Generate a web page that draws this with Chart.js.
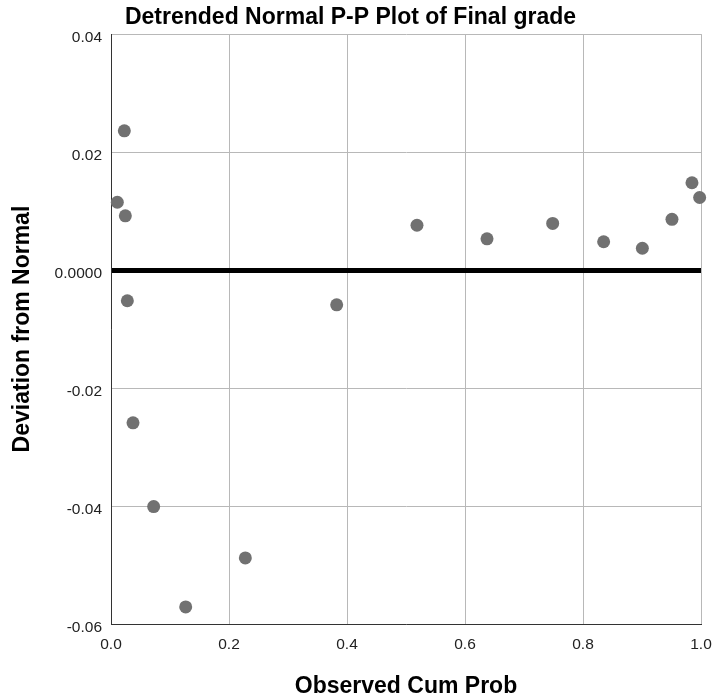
<!DOCTYPE html>
<html>
<head>
<meta charset="utf-8">
<script src="https://cdn.jsdelivr.net/npm/chart.js@4.4.0/dist/chart.umd.min.js"></script>
<style>
  html, body { margin: 0; padding: 0; background: #fff; }
  #wrap { width: 715px; height: 700px; }
</style>
</head>
<body>
<div id="wrap"><canvas id="grafica" width="715" height="700"></canvas></div>
<script>
const observedCumProb = [0.0107, 0.0226, 0.0243, 0.0277, 0.0373, 0.0723, 0.1266, 0.2277, 0.3825,
                         0.5186, 0.6373, 0.7486, 0.8350, 0.9006, 0.9508, 0.9847, 0.9977];
const deviation = [0.0115, 0.0236, 0.0092, -0.0052, -0.0259, -0.0401, -0.0571, -0.0488, -0.0059,
                   0.0076, 0.0053, 0.0079, 0.0048, 0.0037, 0.0086, 0.0148, 0.0123];
const xTicks = [0.0, 0.2, 0.4, 0.6, 0.8, 1.0];
const yTicks = [-0.06, -0.04, -0.02, 0.0, 0.02, 0.04];

const fuente = 'Arial, "Liberation Sans", sans-serif';
const puntos = observedCumProb.map((x, i) => ({ x: x, y: deviation[i] }));
const esCero = v => Math.abs(v) < 1e-9;

const ctx = document.getElementById('grafica');
const chart = new Chart(ctx, {
    type: 'scatter',
    data: {
        datasets: [{
            data: puntos,
            backgroundColor: '#717171',
            borderWidth: 0,
            pointRadius: 6.5,
            pointHoverRadius: 6.5,
            clip: false // los puntos del borde no se recortan
        }]
    },
    options: {
        responsive: false,
        animation: false,
        layout: { padding: { left: 0, right: 14, top: 0, bottom: 0 } },
        plugins: {
            legend: { display: false },
            tooltip: { enabled: false },
            title: {
                display: true,
                text: 'Detrended Normal P-P Plot of Final grade',
                color: '#000',
                font: { family: fuente, size: 23, weight: 'bold', lineHeight: 1.2 },
                padding: { top: 3.5, bottom: 3 }
            }
        },
        scales: {
            x: {
                type: 'linear',
                min: xTicks[0],
                max: xTicks[xTicks.length - 1],
                afterBuildTicks: s => { s.ticks = xTicks.map(v => ({ value: v })); },
                afterFit: s => { s.height = 76; s.paddingLeft = 0; s.paddingRight = 0; },
                ticks: {
                    color: '#222',
                    padding: 11,
                    font: { family: fuente, size: 15.5 },
                    callback: v => v.toFixed(1)
                },
                grid: { color: '#b8b8b8', lineWidth: 1, drawTicks: false },
                border: { color: '#333', width: 1 },
                title: {
                    display: true,
                    text: 'Observed Cum Prob',
                    color: '#000',
                    font: { family: fuente, size: 23, weight: 'bold', lineHeight: 1.2 },
                    padding: { top: 0, bottom: 0 }
                }
            },
            y: {
                type: 'linear',
                min: yTicks[0],
                max: yTicks[yTicks.length - 1],
                afterBuildTicks: s => { s.ticks = yTicks.map(v => ({ value: v })); },
                afterFit: s => { s.width = 111; },
                ticks: {
                    color: '#222',
                    padding: 9,
                    labelOffset: 3.5,
                    font: { family: fuente, size: 15.5 },
                    callback: v => esCero(v) ? '0.0000' : v.toFixed(2)
                },
                grid: {
                    drawTicks: false,
                    color: c => (c.tick && esCero(c.tick.value)) ? '#000' : '#b8b8b8',
                    lineWidth: c => (c.tick && esCero(c.tick.value)) ? 5 : 1
                },
                border: { color: '#333', width: 1 },
                title: {
                    display: true,
                    text: 'Deviation from Normal',
                    color: '#000',
                    font: { family: fuente, size: 23, weight: 'bold', lineHeight: 1.2 },
                    padding: { top: 8.7, bottom: 0 }
                }
            }
        }
    }
});
</script>
</body>
</html>
